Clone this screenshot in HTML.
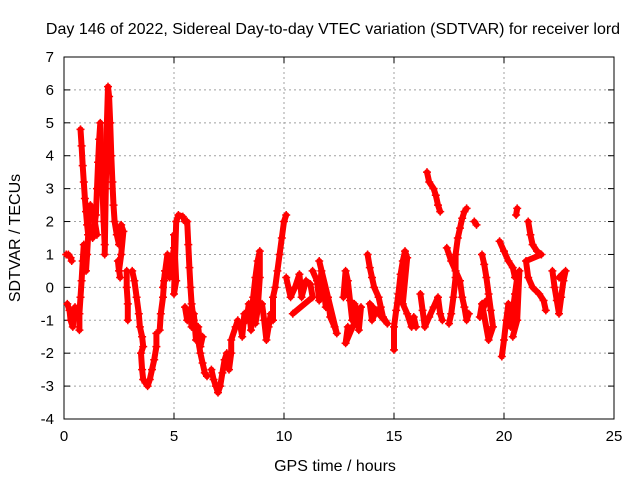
<!DOCTYPE html>
<html><head><meta charset="utf-8"><style>
body{margin:0;background:#fff}
svg text{font-family:"Liberation Sans",sans-serif;font-size:15px;fill:#000}
svg text.big{font-size:16px}
</style></head><body>
<svg id="chart" width="640" height="480" viewBox="0 0 640 480" xmlns="http://www.w3.org/2000/svg">
<rect width="640" height="480" fill="#fff"/>
<g id="grid"></g>
<g id="axes"></g>
<g id="marks"></g>
<text class="big" x="333" y="34" text-anchor="middle">Day 146 of 2022, Sidereal Day-to-day VTEC variation (SDTVAR) for receiver lord</text>
<text class="big" x="335" y="471" text-anchor="middle">GPS time / hours</text>
<text class="big" x="0" y="0" text-anchor="middle" transform="translate(20,238) rotate(-90)">SDTVAR / TECUs</text>
</svg>
<script>
const xTicks=[0,5,10,15,20,25];
const yTicks=[-4,-3,-2,-1,0,1,2,3,4,5,6,7];
const hours=[
0.1,0.2,0.3,0.35,
0.15,0.25,0.3,0.4,0.45,0.5,
0.7,0.7,0.75,0.8,0.85,0.9,0.95,1.0,1.05,1.1,1.15,1.2,1.3,1.4,1.5,
0.75,0.8,0.85,0.9,0.95,1.0,1.05,1.1,
1.3,1.45,1.5,1.55,1.6,1.65,1.7,1.75,1.8,1.85,
1.85,1.9,1.95,2.0,2.05,2.1,2.15,2.2,2.25,2.3,2.4,2.5,2.6,2.7,2.6,2.5,2.45,2.55,
2.85,2.85,2.9,2.9,
3.1,3.2,3.3,3.4,3.45,3.55,3.6,3.5,3.55,3.6,3.7,3.8,3.9,4.0,4.1,4.2,4.2,
4.35,4.4,4.5,4.55,4.6,
4.5,4.6,4.7,4.8,4.9,5.0,5.0,5.1,5.0,5.1,5.2,5.4,5.5,
5.6,5.65,5.7,5.75,5.8,5.9,6.0,6.1,6.2,6.3,6.4,6.5,
5.5,5.6,5.7,5.8,5.9,6.0,6.1,6.2,6.3,
6.7,6.8,6.9,7.0,7.1,7.2,7.3,7.4,7.5,7.6,7.6,7.8,7.9,
8.0,8.1,8.2,8.3,8.4,8.5,8.6,8.7,8.8,8.9,8.9,8.8,8.7,
9.0,9.1,9.2,9.3,9.4,9.5,9.5,9.6,9.7,9.8,9.9,10.0,10.1,
10.1,10.3,10.5,10.7,10.8,11.0,11.2,11.3,10.4,
11.3,11.5,11.6,11.7,11.8,11.9,12.0,12.1,12.3,12.4,11.6,
12.7,12.8,12.9,13.0,13.1,13.2,13.3,13.4,13.5,12.8,12.9,
13.8,13.9,14.0,14.1,14.3,14.4,14.5,14.7,13.9,14.0,14.2,
15.0,15.0,15.1,15.2,15.3,15.4,15.5,15.6,15.4,15.6,15.8,15.9,16.0,
16.2,16.3,16.4,16.6,16.8,17.0,17.1,17.2,
16.5,16.6,16.8,16.9,17.0,17.1,
17.5,17.6,17.7,17.8,17.8,17.9,18.0,18.1,18.2,18.3,
17.4,17.6,17.8,18.0,18.1,18.2,18.3,18.4,
18.65,18.75,
19.0,19.1,19.2,19.3,19.4,19.5,19.3,19.0,18.9,19.2,
19.8,20.0,20.2,20.4,20.5,
19.9,20.0,20.1,20.2,20.3,20.4,20.5,20.6,20.7,20.6,20.4,
20.55,20.6,
21.1,21.2,21.3,21.5,21.7,21.0,21.1,21.3,21.6,21.8,21.9,
22.2,22.3,22.4,22.5,22.6,22.7,22.8,22.5];
const sdtvar=[
1.0,1.0,0.9,0.8,
-0.5,-0.7,-1.0,-1.2,-0.9,-0.6,
-1.3,-0.8,-0.3,0.2,0.8,1.3,0.8,0.5,1.0,1.6,2.2,2.5,2.3,2.0,1.6,
4.8,4.3,3.7,3.2,2.7,2.3,1.9,1.6,
1.5,2.2,3.0,3.8,4.5,5.0,4.0,3.0,2.0,1.3,
1.0,3.0,5.0,6.1,5.8,5.0,4.0,3.2,2.5,2.0,1.6,1.3,1.9,1.7,1.0,0.5,0.8,0.3,
0.5,0.0,-0.5,-1.0,
0.5,0.2,-0.3,-0.8,-1.2,-1.5,-1.8,-2.0,-2.5,-2.8,-2.9,-3.0,-2.8,-2.5,-2.2,-1.8,-1.4,
-1.3,-0.8,-0.3,0.2,0.5,
0.0,0.5,1.0,0.3,0.8,1.2,1.6,0.2,-0.2,2.0,2.2,2.15,2.0,
2.0,1.3,0.6,0.0,-0.5,-1.0,-1.3,-1.6,-2.0,-2.3,-2.6,-2.7,
-0.6,-1.0,-0.7,-1.2,-0.8,-1.6,-1.2,-1.8,-1.5,
-2.5,-2.8,-3.0,-3.2,-3.0,-2.6,-2.2,-2.0,-2.5,-2.0,-1.6,-1.2,-1.0,
-1.1,-1.5,-0.8,-1.0,-0.5,-1.3,-0.3,0.3,0.8,1.1,0.3,-0.7,-1.1,
-0.5,-1.0,-1.6,-1.2,-0.8,-1.0,-0.3,0.0,0.5,1.0,1.5,2.0,2.2,
0.3,-0.3,0.0,0.4,-0.3,0.2,0.1,-0.3,-0.8,
0.5,0.2,-0.4,0.5,0.0,-0.6,-0.3,-0.9,-1.2,-1.4,0.8,
-0.3,0.5,0.2,-0.4,-1.0,-0.5,-0.7,-1.3,-0.6,-1.7,-1.2,
1.0,0.6,0.3,0.0,-0.3,-0.6,-0.9,-1.1,-0.5,-1.0,-0.7,
-1.9,-1.2,-0.7,-0.2,0.4,0.8,1.1,0.9,-0.5,-0.8,-1.2,-0.9,-1.2,
-0.2,-0.7,-1.2,-0.9,-0.6,-0.3,-0.8,-1.0,
3.5,3.2,3.0,2.8,2.5,2.3,
-1.1,-0.8,-0.3,0.3,1.0,1.5,1.8,2.1,2.3,2.4,
1.2,0.8,0.5,0.2,-0.3,-0.6,-1.0,-0.8,
2.0,1.9,
1.0,0.7,0.3,-0.2,-0.7,-1.2,-1.6,-0.5,-0.9,-0.4,
1.4,1.1,0.8,0.6,0.3,
-2.1,-1.6,-1.0,-0.5,-1.2,-0.7,-0.2,0.3,0.5,-1.0,-1.5,
2.2,2.4,
2.0,1.6,1.3,1.1,1.0,0.8,0.3,0.0,-0.2,-0.4,-0.7,
0.5,0.0,-0.4,-0.8,-0.3,0.2,0.5,0.3];
const trackStarts=[0,4,10,25,33,43,61,65,82,87,100,112,121,134,147,160,169,180,191,202,215,223,229,239,247,249,259,264,275,277,288];
const X0=64,X1=614,Y0=419,Y1=57;
function sx(t){return X0+(t-xTicks[0])/(xTicks[xTicks.length-1]-xTicks[0])*(X1-X0);}
function sy(v){return Y0-(v-yTicks[0])/(yTicks[yTicks.length-1]-yTicks[0])*(Y0-Y1);}
const NS='http://www.w3.org/2000/svg';
function mk(tag,attrs,parent){const e=document.createElementNS(NS,tag);for(const k in attrs)e.setAttribute(k,attrs[k]);parent.appendChild(e);return e;}
const grid=document.getElementById('grid'),axes=document.getElementById('axes'),marks=document.getElementById('marks');
xTicks.forEach(t=>{const x=sx(t);
 if(t>xTicks[0]&&t<xTicks[xTicks.length-1]){const g=mk('line',{x1:x,x2:x,y1:Y1,y2:Y0,stroke:'#a0a0a0','stroke-dasharray':'2,3'},grid);
 
 }
 mk('line',{x1:x,x2:x,y1:Y0,y2:Y0-6,stroke:'#000'},axes);
 mk('line',{x1:x,x2:x,y1:Y1,y2:Y1+6,stroke:'#000'},axes);
 const l=mk('text',{x:x,y:Y0+22,'text-anchor':'middle'},axes);l.textContent=t;
 
 });
yTicks.forEach(v=>{const y=sy(v);
 if(v>yTicks[0]&&v<yTicks[yTicks.length-1]){const g=mk('line',{x1:X0,x2:X1,y1:y,y2:y,stroke:'#a0a0a0','stroke-dasharray':'2,3'},grid);
 
 }
 mk('line',{x1:X0,x2:X0+6,y1:y,y2:y,stroke:'#000'},axes);
 mk('line',{x1:X1,x2:X1-6,y1:y,y2:y,stroke:'#000'},axes);
 const l=mk('text',{x:X0-10,y:y+5,'text-anchor':'end'},axes);l.textContent=v;
 
 });
const fr=mk('rect',{x:X0,y:Y1,width:X1-X0,height:Y0-Y1,fill:'none',stroke:'#000'},axes);


const bounds=trackStarts.concat([hours.length]);
for(let k=0;k<bounds.length-1;k++){
 const pts=[];for(let i=bounds[k];i<bounds[k+1];i++)pts.push(sx(hours[i]).toFixed(1)+','+sy(sdtvar[i]).toFixed(1));
 const pl=mk('polyline',{points:pts.join(' '),fill:'none',stroke:'#f00','stroke-width':6,'stroke-linejoin':'round','stroke-linecap':'round'},marks);
 
 
}
for(let i=0;i<hours.length;i++){const x=sx(hours[i]),y=sy(sdtvar[i]);
 const p=mk('path',{d:`M${x-4},${y}h8M${x},${y-4}v8`,stroke:'#f00','stroke-width':1.5},marks);
 
 }
</script>
</body></html>
